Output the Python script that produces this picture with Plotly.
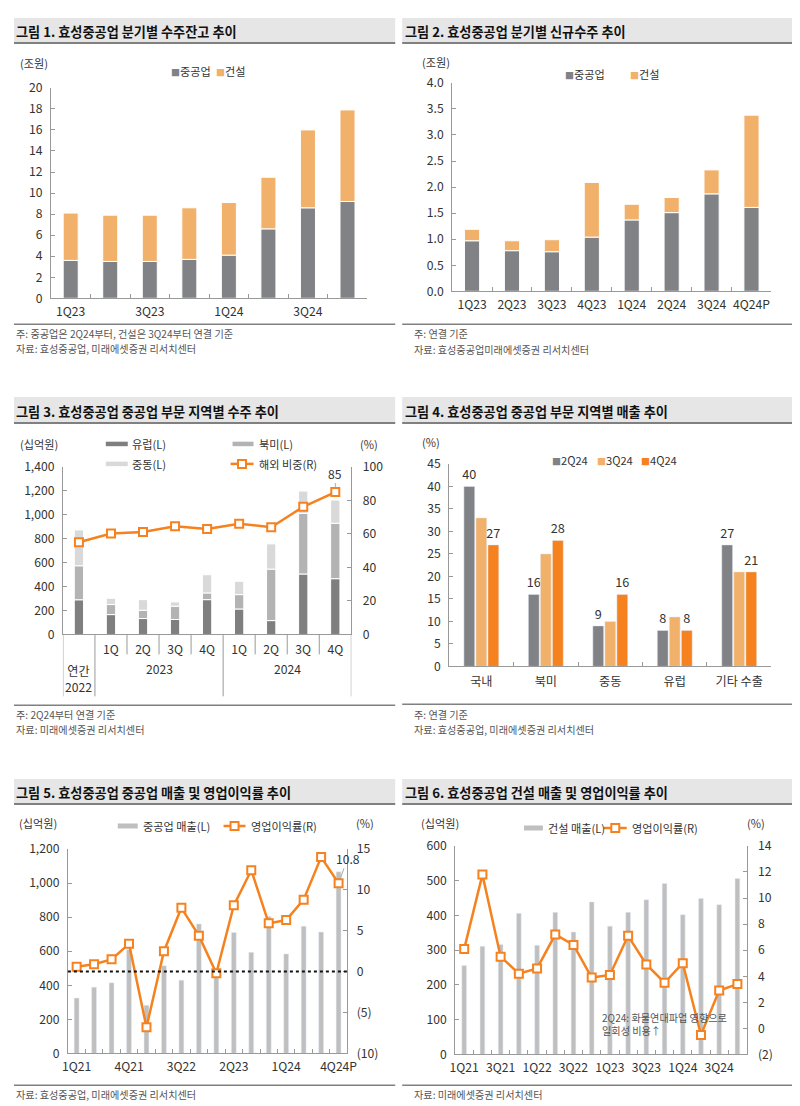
import plotly.graph_objects as go

FONT = "Noto Sans CJK KR"
FW, FH = 800, 1100           # figure size
# observed placement of the figure in the photo: offset and scale per direction
AX0, SX = 13, 0.982
AY0, SY = 15, 0.987

# ---------------- data ----------------
c1_quarters = ["1Q23", "2Q23", "3Q23", "4Q23", "1Q24", "2Q24", "3Q24", "4Q24"]
c1_heavy = [3.6, 3.5, 3.5, 3.7, 4.1, 6.6, 8.6, 9.2]
c1_const = [4.5, 4.4, 4.4, 4.9, 5.0, 4.9, 7.4, 8.7]

c2_quarters = ["1Q23", "2Q23", "3Q23", "4Q23", "1Q24", "2Q24", "3Q24", "4Q24P"]
c2_heavy = [0.97, 0.78, 0.76, 1.04, 1.37, 1.51, 1.87, 1.61]
c2_const = [0.22, 0.19, 0.23, 1.05, 0.30, 0.29, 0.46, 1.77]

c3_periods = ["2022", "1Q23", "2Q23", "3Q23", "4Q23", "1Q24", "2Q24", "3Q24", "4Q24"]
c3_qlabels = ["", "1Q", "2Q", "3Q", "4Q", "1Q", "2Q", "3Q", "4Q"]
c3_groups = [("연간<br>2022", 1), ("2023", 4), ("2024", 4)]
c3_europe = [290, 166, 133, 125, 291, 213, 116, 505, 466]
c3_namerica = [284, 84, 69, 111, 56, 120, 430, 507, 463]
c3_mideast = [299, 52, 89, 36, 152, 111, 211, 186, 194]
c3_overseas = [55.0, 60.2, 61.2, 64.6, 63.0, 66.1, 64.0, 76.2, 85.0]

c4_regions = ["국내", "북미", "중동", "유럽", "기타 수출"]
c4_2q24 = [40, 16, 9, 8, 27]
c4_3q24 = [33, 25, 10, 11, 21]
c4_4q24 = [27, 28, 16, 8, 21]

c5_quarters = ["1Q21", "2Q21", "3Q21", "4Q21", "1Q22", "2Q22", "3Q22", "4Q22",
               "1Q23", "2Q23", "3Q23", "4Q23", "1Q24", "2Q24", "3Q24", "4Q24P"]
c5_sales = [325, 389, 414, 610, 282, 515, 430, 760, 470, 710, 593, 803, 584, 747, 712, 1066]
c5_opm = [0.6, 0.9, 1.5, 3.4, -6.8, 2.5, 7.8, 4.4, -0.2, 8.1, 12.4, 5.9, 6.3, 8.8, 14.0, 10.8]

c6_quarters = ["1Q21", "2Q21", "3Q21", "4Q21", "1Q22", "2Q22", "3Q22", "4Q22",
               "1Q23", "2Q23", "3Q23", "4Q23", "1Q24", "2Q24", "3Q24", "4Q24"]
c6_sales = [256, 311, 316, 406, 314, 409, 352, 439, 369, 409, 445, 492, 402, 449, 431, 506]
c6_opm = [6.1, 11.8, 5.5, 4.2, 4.6, 7.2, 6.4, 3.9, 4.1, 7.1, 4.9, 3.5, 5.0, -0.5, 2.9, 3.4]

# ---------------- styles ----------------
GRAY = "#808285"
LORANGE = "#f1b16b"
ORANGE = "#f5821f"
DGRAY3 = "#7f7f7f"
MGRAY3 = "#b3b3b3"
LGRAY3 = "#d9d9d9"
BARGRAY = "#bfbfbf"
TXT = "#333333"
NOTE = "#555555"
AXC = "#999999"


def px(x):
    return max(0.0, (x - AX0) / SX) / FW


def py(y):
    return 1 - max(0.0, (y - AY0) / SY) / FH


def fs(n):
    return n / SY


fig = go.Figure()

# ---- chart 1 ----
w = 0.38
fig.add_bar(x=c1_quarters, y=c1_heavy, width=w, offset=-w / 2, xaxis="x", yaxis="y",
            marker=dict(color=GRAY, line=dict(color="white", width=1)), showlegend=False)
fig.add_bar(x=c1_quarters, y=c1_const, base=c1_heavy, width=w, offset=-w / 2, xaxis="x", yaxis="y",
            marker=dict(color=LORANGE, line=dict(color="white", width=1)), showlegend=False)

# ---- chart 2 ----
fig.add_bar(x=c2_quarters, y=c2_heavy, width=w, offset=-w / 2, xaxis="x2", yaxis="y2",
            marker=dict(color=GRAY, line=dict(color="white", width=1)), showlegend=False)
fig.add_bar(x=c2_quarters, y=c2_const, base=c2_heavy, width=w, offset=-w / 2, xaxis="x2", yaxis="y2",
            marker=dict(color=LORANGE, line=dict(color="white", width=1)), showlegend=False)

# ---- chart 3 ----
w3 = 0.29
base_na = [a for a in c3_europe]
base_me = [a + b for a, b in zip(c3_europe, c3_namerica)]
fig.add_bar(x=c3_periods, y=c3_europe, width=w3, offset=-w3 / 2, xaxis="x3", yaxis="y3",
            marker=dict(color=DGRAY3, line=dict(color="white", width=1)), showlegend=False)
fig.add_bar(x=c3_periods, y=c3_namerica, base=base_na, width=w3, offset=-w3 / 2, xaxis="x3", yaxis="y3",
            marker=dict(color=MGRAY3, line=dict(color="white", width=1)), showlegend=False)
fig.add_bar(x=c3_periods, y=c3_mideast, base=base_me, width=w3, offset=-w3 / 2, xaxis="x3", yaxis="y3",
            marker=dict(color=LGRAY3, line=dict(color="white", width=1)), showlegend=False)
fig.add_scatter(x=c3_periods, y=c3_overseas, xaxis="x3", yaxis="y4", mode="lines+markers",
                line=dict(color=ORANGE, width=2.5),
                marker=dict(symbol="square", size=8, color="white", line=dict(color=ORANGE, width=2)),
                showlegend=False)

# ---- chart 4 ----
tf = dict(family=FONT, size=fs(12.5), color=TXT)
fig.add_bar(x=c4_regions, y=c4_2q24, xaxis="x4", yaxis="y5", marker=dict(color=GRAY),
            text=c4_2q24, textposition="outside", textfont=tf, cliponaxis=False,
            constraintext="none", showlegend=False)
fig.add_bar(x=c4_regions, y=c4_3q24, xaxis="x4", yaxis="y5", marker=dict(color=LORANGE),
            showlegend=False)
fig.add_bar(x=c4_regions, y=c4_4q24, xaxis="x4", yaxis="y5", marker=dict(color=ORANGE),
            text=c4_4q24, textposition="outside", textfont=tf, cliponaxis=False,
            constraintext="none", showlegend=False)

# ---- chart 5 ----
w5 = 0.28
fig.add_bar(x=c5_quarters, y=c5_sales, width=w5, offset=-w5 / 2, xaxis="x5", yaxis="y6",
            marker=dict(color=BARGRAY), showlegend=False)
fig.add_scatter(x=c5_quarters, y=c5_opm, xaxis="x5", yaxis="y7", mode="lines+markers",
                line=dict(color=ORANGE, width=2.5),
                marker=dict(symbol="square", size=8, color="white", line=dict(color=ORANGE, width=2)),
                showlegend=False, cliponaxis=False)

# ---- chart 6 ----
w6 = 0.26
fig.add_bar(x=c6_quarters, y=c6_sales, width=w6, offset=-w6 / 2, xaxis="x6", yaxis="y8",
            marker=dict(color=BARGRAY), showlegend=False)
fig.add_scatter(x=c6_quarters, y=c6_opm, xaxis="x6", yaxis="y9", mode="lines+markers",
                line=dict(color=ORANGE, width=2.5),
                marker=dict(symbol="square", size=8, color="white", line=dict(color=ORANGE, width=2)),
                showlegend=False, cliponaxis=False)

# ---------------- axes ----------------
tickfont = dict(family=FONT, size=fs(12), color=TXT)
BASE = dict(showgrid=False, zeroline=False, showline=True, linecolor=AXC, linewidth=1,
            ticks="inside", ticklen=4, tickcolor=AXC, tickfont=tickfont, fixedrange=True)


def xcat(dom, anchor, cats, labels, **kw):
    d = dict(BASE, domain=[px(dom[0]), px(dom[1])], anchor=anchor, type="category",
             range=[-0.5, len(cats) - 0.5], tickmode="array", tickvals=cats, ticktext=labels,
             tickson="boundaries", tickangle=0, ticklabelstandoff=2)
    d.update(kw)
    return d


def yax(dom, anchor, rng, **kw):
    d = dict(BASE, domain=[py(dom[1]), py(dom[0])], anchor=anchor, range=rng, ticklabelstandoff=5)
    d.update(kw)
    return d


lbl1 = [c if i % 2 == 0 else "" for i, c in enumerate(c1_quarters)]
lbl5 = [c if i % 3 == 0 else "" for i, c in enumerate(c5_quarters)]
lbl6 = [c if i % 2 == 0 else "" for i, c in enumerate(c6_quarters)]

layout_axes = dict(
    xaxis=xcat((50, 367), "y", c1_quarters, lbl1),
    yaxis=yax((85, 296), "x", [0, 20], dtick=2),
    xaxis2=xcat((452, 772), "y2", c2_quarters, c2_quarters),
    yaxis2=yax((80, 289), "x2", [0, 4], dtick=0.5, tickformat=".1f"),
    xaxis3=xcat((62, 351), "y3", c3_periods, c3_qlabels, ticks="", ticklabelstandoff=4),
    yaxis3=yax((465, 633), "x3", [0, 1400], dtick=200, tickformat=","),
    yaxis4=yax((465, 633), "x3", [0, 100], dtick=20, overlaying="y3", side="right",
               ticklabelstandoff=8),
    xaxis4=xcat((449, 772), "y5", c4_regions, c4_regions, ticklabelstandoff=4),
    yaxis5=yax((462, 665), "x4", [0, 45], dtick=5),
    xaxis5=xcat((67, 347), "y6", c5_quarters, lbl5),
    yaxis6=yax((848, 1053), "x5", [0, 1200], dtick=200, tickformat=","),
    yaxis7=yax((848, 1053), "x5", [-10, 15], overlaying="y6", side="right",
               tickmode="array", tickvals=[-10, -5, 0, 5, 10, 15],
               ticktext=["(10)", "(5)", "0", "5", "10", "15"], ticklabelstandoff=6),
    xaxis6=xcat((455, 747), "y8", c6_quarters, lbl6),
    yaxis8=yax((845, 1054), "x6", [0, 600], dtick=100),
    yaxis9=yax((845, 1054), "x6", [-2, 14], overlaying="y8", side="right",
               tickmode="array", tickvals=list(range(-2, 15, 2)),
               ticktext=["(2)"] + [str(v) for v in range(0, 15, 2)], ticklabelstandoff=8),
)

# ---------------- annotations & shapes ----------------
ann = []
shapes = []


def text(x, y, s, size=11, color=TXT, xanchor="left", **kw):
    d = dict(x=px(x), y=py(y), xref="paper", yref="paper", text=s, showarrow=False,
             xanchor=xanchor, yanchor="middle", font=dict(family=FONT, size=fs(size), color=color))
    d.update(kw)
    ann.append(d)


def hline(x0, x1, y, color, width, dash=None):
    shapes.append(dict(type="line", xref="paper", yref="paper", x0=px(x0), x1=px(x1), y0=py(y), y1=py(y),
                       line=dict(color=color, width=width, dash=dash)))


def title_block(x0, x1, y0, y1, s):
    shapes.append(dict(type="rect", xref="paper", yref="paper", x0=px(x0), x1=px(x1), y0=py(y1), y1=py(y0),
                       fillcolor="#e6e6e6", line=dict(width=0), layer="below"))
    hline(x0, x1, y1, "#808080", 2)
    text(x0 + 1, (y0 + y1) / 2 + 1, "<b>" + s + "</b>", size=13, color="#111111")


def sq(color):
    return '<span style="color:%s;font-size:9px">■</span>' % color


def leg_bar(x0, x1, y, color, width=4.5):
    shapes.append(dict(type="line", xref="paper", yref="paper", x0=px(x0), x1=px(x1), y0=py(y), y1=py(y),
                       line=dict(color=color, width=width)))


def leg_line(x0, x1, y):
    leg_bar(x0, x1, y, ORANGE, 2.5)
    xc = (x0 + x1) / 2
    shapes.append(dict(type="rect", xref="paper", yref="paper", x0=px(xc - 4), x1=px(xc + 4),
                       y0=py(y + 4), y1=py(y - 4), fillcolor="white", line=dict(color=ORANGE, width=2)))


# titles
title_block(8, 395, 15, 40, "그림 1. 효성중공업 분기별 수주잔고 추이")
title_block(402, 794, 15, 40, "그림 2. 효성중공업 분기별 신규수주 추이")
title_block(8, 395, 395, 421, "그림 3. 효성중공업 중공업 부문 지역별 수주 추이")
title_block(402, 794, 395, 421, "그림 4. 효성중공업 중공업 부문 지역별 매출 추이")
title_block(8, 395, 778, 803, "그림 5. 효성중공업 중공업 매출 및 영업이익률 추이")
title_block(402, 794, 778, 803, "그림 6. 효성중공업 건설 매출 및 영업이익률 추이")

# chart 1 texts
text(33, 60, "(조원)", size=11, xanchor="center")
text(168, 68, sq(GRAY) + "중공업", size=11)
text(213, 68, sq(LORANGE) + "건설", size=11)
hline(8, 395, 322, "#808080", 1.5)
text(8, 331, "주: 중공업은 2Q24부터, 건설은 3Q24부터 연결 기준", size=10, color=NOTE)
text(8, 346, "자료: 효성중공업, 미래에셋증권 리서치센터", size=10, color=NOTE)

# chart 2 texts
text(436, 59, "(조원)", size=11, xanchor="center")
text(563, 71, sq(GRAY) + "중공업", size=11)
text(628, 71, sq(LORANGE) + "건설", size=11)
hline(402, 794, 322, "#808080", 1.5)
text(412, 331, "주: 연결 기준", size=10, color=NOTE)
text(412, 347, "자료: 효성중공업미래에셋증권 리서치센터", size=10, color=NOTE)

# chart 3 texts
text(38, 442, "(십억원)", size=11, xanchor="center")
text(369, 442, "(%)", size=11, xanchor="center")
leg_bar(105, 127, 442, DGRAY3)
text(129, 442, "유럽(L)", size=11)
leg_bar(232, 253, 442, MGRAY3)
text(256, 442, "북미(L)", size=11)
leg_bar(105, 127, 462, LGRAY3)
text(129, 462, "중동(L)", size=11)
leg_line(230, 253, 462)
text(256, 462, "해외 비중(R)", size=11)
ann.append(dict(x=len(c3_periods) - 1, y=c3_overseas[-1], xref="x3", yref="y4", text="85",
                showarrow=True, arrowhead=0, arrowwidth=1, arrowcolor="#aaaaaa", ax=0, ay=-19,
                standoff=5, font=dict(family=FONT, size=fs(12), color=TXT)))
# multi-level category separators and group labels
pos = -0.5
bounds = [pos]
for name, n in c3_groups:
    ann.append(dict(x=pos + n / 2, y=py(677 if "<br>" in name else 667), xref="x3", yref="paper",
                    text=name, showarrow=False, yanchor="middle",
                    font=dict(family=FONT, size=fs(12), color=TXT)))
    pos += n
    bounds.append(pos)
for i in range(len(c3_periods) + 1):
    xb = i - 0.5
    long = any(abs(xb - b) < 1e-9 for b in bounds)
    shapes.append(dict(type="line", xref="x3", yref="paper", x0=xb, x1=xb, y0=py(633),
                       y1=py(695 if long else 653), line=dict(color=AXC, width=1)))
hline(8, 395, 704, "#808080", 1.5)
text(8, 713, "주: 2Q24부터 연결 기준", size=10, color=NOTE)
text(8, 728, "자료: 미래에셋증권 리서치센터", size=10, color=NOTE)

# chart 4 texts
text(431, 440, "(%)", size=11, xanchor="center")
text(550, 458, sq(GRAY) + "2Q24", size=11)
text(595, 458, sq(LORANGE) + "3Q24", size=11)
text(639, 458, sq(ORANGE) + "4Q24", size=11)
hline(402, 794, 703, "#808080", 1.5)
text(412, 713, "주: 연결 기준", size=10, color=NOTE)
text(412, 728, "자료: 효성중공업, 미래에셋증권 리서치센터", size=10, color=NOTE)

# chart 5 texts
text(37, 822, "(십억원)", size=11, xanchor="center")
text(365, 822, "(%)", size=11, xanchor="center")
leg_bar(117, 137, 825, BARGRAY, 5)
text(140, 825, "중공업 매출(L)", size=11)
leg_line(223, 245, 825)
text(248, 825, "영업이익률(R)", size=11)
shapes.append(dict(type="line", xref="x5 domain", yref="y7", x0=0, x1=1, y0=0, y1=0,
                   line=dict(color="#111111", width=2, dash="dot"), layer="above"))
ann.append(dict(x=len(c5_quarters) - 1, y=c5_opm[-1], xref="x5", yref="y7", text="10.8",
                showarrow=True, arrowhead=0, arrowwidth=1, arrowcolor="#aaaaaa", ax=9, ay=-25,
                standoff=5, font=dict(family=FONT, size=fs(12), color=TXT)))
hline(8, 395, 1085, "#808080", 1.5)
text(8, 1094, "자료: 효성중공업, 미래에셋증권 리서치센터", size=10, color=NOTE)

# chart 6 texts
text(440, 822, "(십억원)", size=11, xanchor="center")
text(757, 822, "(%)", size=11, xanchor="center")
leg_bar(524, 543, 827, BARGRAY, 5)
text(546, 827, "건설 매출(L)", size=11)
leg_line(604, 627, 827)
text(630, 827, "영업이익률(R)", size=11)
text(600, 1024, "2Q24: 화물연대파업 영향으로<br>일회성 비용↑", size=10, color=NOTE, align="left")
hline(402, 794, 1085, "#808080", 1.5)
text(412, 1094, "자료: 미래에셋증권 리서치센터", size=10, color=NOTE)

fig.update_layout(
    width=FW, height=FH, margin=dict(l=0, r=0, t=0, b=0),
    paper_bgcolor="white", plot_bgcolor="white",
    barmode="group", bargap=0.44, bargroupgap=0.1,
    font=dict(family=FONT, size=fs(12), color=TXT),
    showlegend=False,
    annotations=ann, shapes=shapes,
    **layout_axes,
)

fig.write_html("out.html", config={"displayModeBar": False})
